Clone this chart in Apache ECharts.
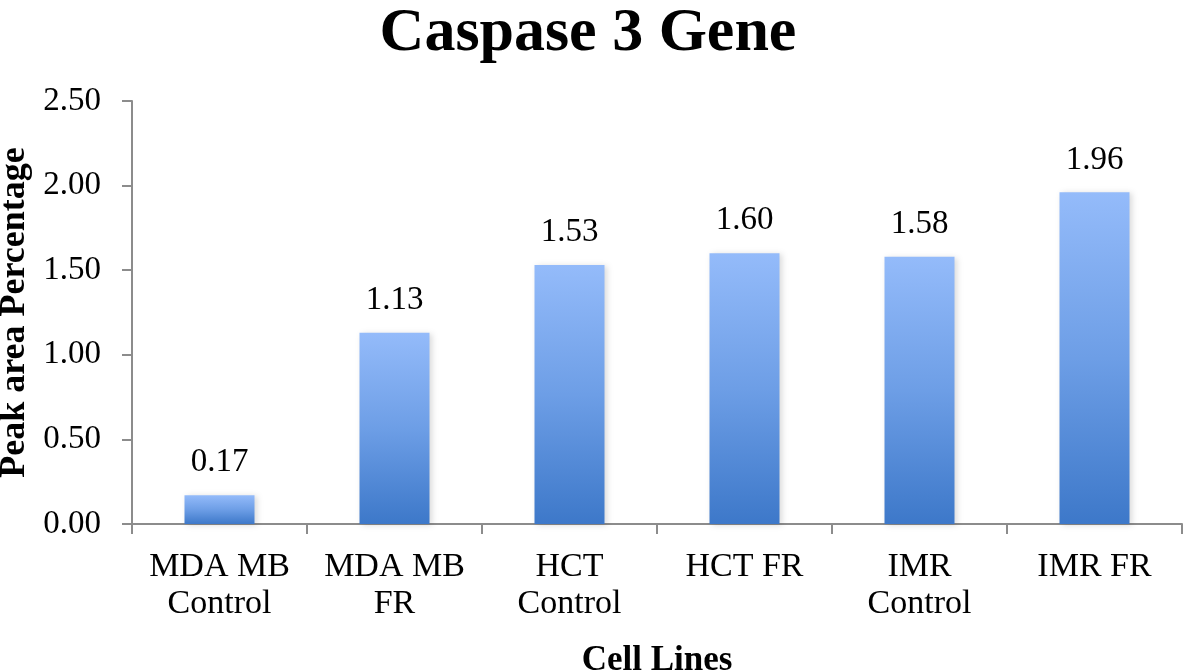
<!DOCTYPE html>
<html><head><meta charset="utf-8">
<script src="https://cdn.jsdelivr.net/npm/echarts@6/dist/echarts.min.js"></script>
<style>html,body{margin:0;padding:0;background:#fff}#c{width:1183px;height:671px}</style>
</head><body><div id="c"></div>
<script>
const categories = ["MDA MB\nControl", "MDA MB\nFR", "HCT\nControl", "HCT FR", "IMR\nControl", "IMR FR"];
const values = [0.17, 1.13, 1.53, 1.60, 1.58, 1.96];
const yTicks = [0, 0.5, 1.0, 1.5, 2.0, 2.5];
const font = '"Liberation Serif", "Times New Roman", serif';
const axisGray = '#8c8c8c';
const chart = echarts.init(document.getElementById('c'));
chart.setOption({
  animation: false,
  title: {
    text: 'Caspase 3 Gene', left: 583, top: -2, textAlign: 'center',
    textStyle: {fontFamily: font, fontSize: 62, fontWeight: 'bold', color: '#000'}
  },
  grid: {left: 132, right: 1, top: 101, bottom: 147, containLabel: false, outerBoundsMode: 'none'},
  xAxis: {
    type: 'category', data: categories,
    axisLine: {lineStyle: {color: axisGray, width: 2}},
    axisTick: {show: true, length: 10, lineStyle: {color: axisGray, width: 2}},
    axisLabel: {fontFamily: font, fontSize: 34, color: '#000', margin: 25, lineHeight: 37, interval: 0},
    name: 'Cell Lines', nameLocation: 'middle', nameGap: 119,
    nameTextStyle: {fontFamily: font, fontSize: 35, fontWeight: 'bold', color: '#000'}
  },
  yAxis: {
    type: 'value', min: 0, max: 2.5, interval: 0.5,
    axisLine: {show: true, lineStyle: {color: axisGray, width: 2}},
    axisTick: {show: true, length: 10, lineStyle: {color: axisGray, width: 2}},
    splitLine: {show: false},
    axisLabel: {fontFamily: font, fontSize: 33, color: '#000', margin: 31,
      formatter: v => yTicks.includes(v) ? v.toFixed(2) : ''},
    name: 'Peak area Percentage', nameLocation: 'middle', nameGap: 96,
    nameTextStyle: {fontFamily: font, fontSize: 36, fontWeight: 'bold', color: '#000', padding: [0, 0, 0, 0]}
  },
  series: [{
    type: 'bar', data: values, barWidth: 70,
    itemStyle: {
      color: new echarts.graphic.LinearGradient(0, 0, 0, 1, [
        {offset: 0, color: '#94bbfa'},
        {offset: 0.5, color: '#6d9ee6'},
        {offset: 1, color: '#3d78c9'}
      ]),
      shadowColor: 'rgba(0,0,0,0.15)', shadowBlur: 6, shadowOffsetX: 2, shadowOffsetY: 1
    },
    label: {show: true, position: 'top', distance: 16, fontFamily: font, fontSize: 33, color: '#000',
      formatter: p => p.value.toFixed(2)}
  }]
});
</script></body></html>
